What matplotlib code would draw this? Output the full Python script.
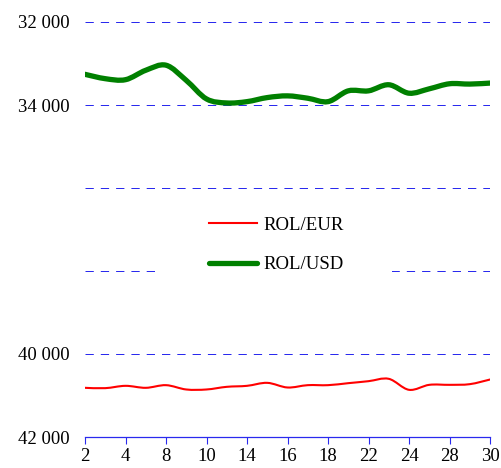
import matplotlib.pyplot as plt
from matplotlib.path import Path
from matplotlib.patches import PathPatch, Rectangle
from matplotlib.lines import Line2D

# working days of the month
days = [2, 3, 4, 7, 8, 9, 10, 11, 14, 15, 16, 17, 18, 21, 22, 23, 24, 25, 28, 29, 30]
rol_eur = [40815, 40823, 40767, 40815, 40751, 40855, 40855, 40791, 40767, 40695, 40807,
           40751, 40751, 40703, 40655, 40598, 40863, 40743, 40743, 40727, 40615]
rol_usd = [33261, 33366, 33390, 33163, 33041, 33407, 33854, 33951, 33919, 33821, 33780,
           33837, 33919, 33659, 33659, 33512, 33716, 33610, 33488, 33496, 33472]
y_ticks = [32000, 34000, 36000, 38000, 40000, 42000]
y_labels = ['32 000', '34 000', '', '', '40 000', '42 000']

plt.rcParams['font.family'] = ['Liberation Serif', 'DejaVu Serif']
blue = '#2a2aee'


def smooth_path(xs, ys):
    # Catmull-Rom style bezier through the data points (like Excel smoothed lines)
    verts = [(xs[0], ys[0])]
    codes = [Path.MOVETO]
    n = len(xs)
    for i in range(n - 1):
        x0, y0 = (xs[i - 1], ys[i - 1]) if i > 0 else (xs[i], ys[i])
        x1, y1 = xs[i], ys[i]
        x2, y2 = xs[i + 1], ys[i + 1]
        x3, y3 = (xs[i + 2], ys[i + 2]) if i + 2 < n else (x2, y2)
        c1 = (x1 + (x2 - x0) / 6, y1 + (y2 - y0) / 6)
        c2 = (x2 - (x3 - x1) / 6, y2 - (y3 - y1) / 6)
        verts += [c1, c2, (x2, y2)]
        codes += [Path.CURVE4] * 3
    return Path(verts, codes)


fig = plt.figure(figsize=(5.01, 4.68), dpi=100)
ax = fig.add_axes([85 / 501, 31 / 468, 405 / 501, 415 / 468])

xpos = list(range(len(days)))
for vals, col, lw in [(rol_eur, 'red', 1.5), (rol_usd, 'green', 3.8)]:
    ax.add_patch(PathPatch(smooth_path(xpos, vals), facecolor='none', edgecolor=col,
                           lw=lw, capstyle='round', joinstyle='round', zorder=3))

for v in y_ticks[:-1]:
    ax.axhline(v, color=blue, lw=0.72, ls=(0, (8.3, 7)), zorder=1, snap=True)

ax.set_xlim(0, len(days) - 1)
ax.set_ylim(42000, 32000)
ax.set_yticks(y_ticks)
ax.set_yticklabels(y_labels)
ax.set_xticks(xpos[::2])
ax.set_xticklabels([str(d) for d in days[::2]])
ax.tick_params(axis='y', length=0, labelsize=13.5, pad=11)
ax.tick_params(axis='x', length=5, color=blue, labelsize=13.5, pad=3)
for s in ['top', 'left', 'right']:
    ax.spines[s].set_visible(False)
ax.spines['bottom'].set_color(blue)
ax.spines['bottom'].set_linewidth(0.9)

# white legend area
ax.add_patch(Rectangle((0.178, 0.37), 0.58, 0.21, transform=ax.transAxes,
                       facecolor='white', edgecolor='none', zorder=4))

handles = [Line2D([], [], color='red', lw=1.5),
           Line2D([], [], color='green', lw=3.8, solid_capstyle='round')]
leg = ax.legend(handles, ['ROL/EUR', 'ROL/USD'], loc='center left', bbox_to_anchor=(0.305, 0.463),
                frameon=False, fontsize=13.5, handlelength=2.6, handletextpad=0.35,
                labelspacing=1.2, borderpad=0, borderaxespad=0)
leg.set_zorder(5)

fig.savefig('out.png', dpi=100)
